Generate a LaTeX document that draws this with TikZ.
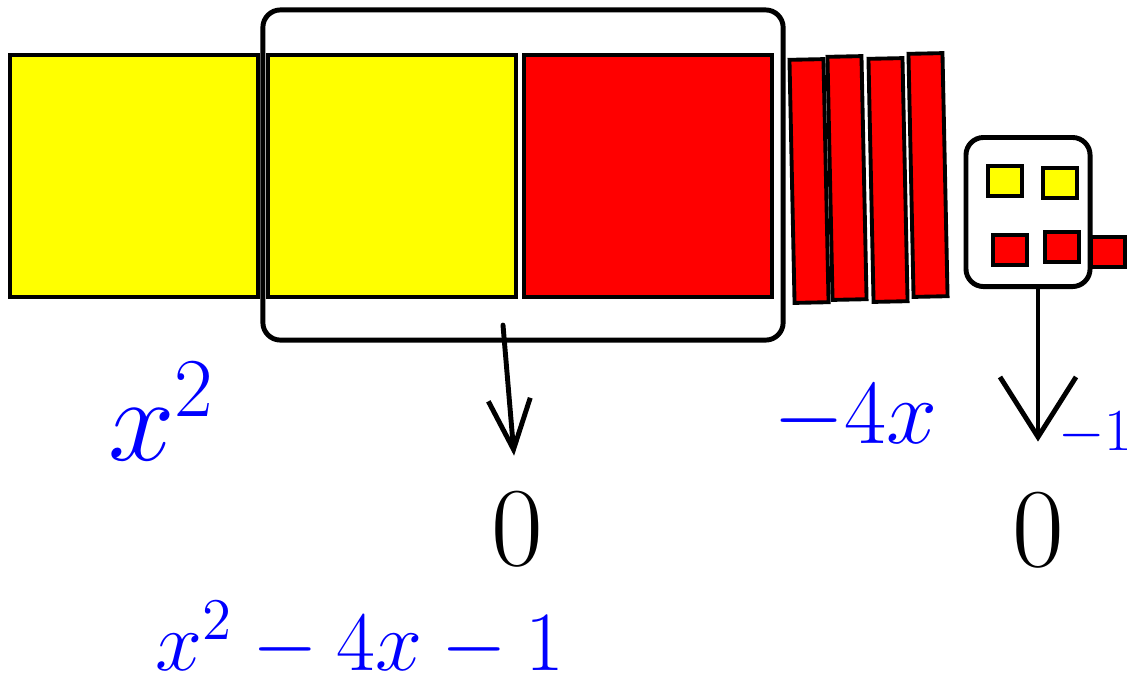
\RequirePackage{fix-cm}
\documentclass[tikz,border=0pt]{standalone}
\usepackage{amsmath}
\usepackage{xcolor}
\usepackage{tikz}
\usetikzlibrary{arrows.meta,positioning,calc,fit}
\definecolor{tileyellow}{HTML}{FFFF00}
\definecolor{tilered}{HTML}{FF0000}
\definecolor{penblue}{HTML}{0000FF}

\begin{document}
\begin{tikzpicture}[x=0.01cm, y=-0.01cm, every node/.style={inner sep=0pt, outer sep=0pt}]
    \tikzstyle{tile}=[draw=black,line width=1.1pt]
    \tikzstyle{square}=[tile,minimum width=2.48cm,minimum height=2.42cm]
    \tikzstyle{bar}=[tile,fill=tilered,minimum width=0.34cm,minimum height=2.43cm,rotate=1.2]
    \tikzstyle{unit}=[tile,minimum width=0.34cm,minimum height=0.30cm]
    \tikzstyle{frame}=[draw=black,line width=1.4pt,rounded corners=5pt]
    \tikzstyle{drop}=[line width=1.4pt,line cap=round]
    \tikzstyle{pen}=[text=penblue]
    \useasboundingbox (0,0) rectangle (1134,693);
    \node[square,fill=tileyellow] (xsqA) at (134,176) {};
    \node[square,fill=tileyellow,right=0.1cm of xsqA] (xsqB) {};
    \node[square,fill=tilered,right=0.08cm of xsqB] (xsqC) {};
    \node[bar] (xbarA) at (809,181) {};
    \node[bar] (xbarB) at (847,178) {};
    \node[bar] (xbarC) at (888,180) {};
    \node[bar] (xbarD) at (928,175) {};
    \node[frame,minimum width=5.2cm,minimum height=3.3cm] (pair) at (523,175) {};
    \node[frame,minimum width=1.24cm,minimum height=1.49cm] (units) at (1028,212) {};
    \node[unit,fill=tileyellow] (oneA) at (1005,181) {};
    \node[unit,fill=tileyellow] (oneB) at (1060,183) {};
    \node[unit,fill=tilered] (oneC) at (1010,250) {};
    \node[unit,fill=tilered] (oneD) at (1062,247) {};
    \node[unit,fill=tilered] (oneE) at (1108,252) {};
    \node[anchor=base] (zeroA) at (517,565) {\fontsize{32}{38}\selectfont 0};
    \node[anchor=base] (zeroB) at (1038,566) {\fontsize{32}{38}\selectfont 0};
    \draw[drop,-{Straight Barb[length=0.5cm,width=0.42cm]},shorten >=0.35cm] ([xshift=-0.2cm,yshift=0.15cm]pair.south) -- (zeroA.north);
    \draw[drop,-{Straight Barb[length=0.6cm,width=0.76cm]},shorten >=0.5cm] (zeroB |- units.south) -- (zeroB.north);
    \node[pen,anchor=base west] (sqlabel) at (108,460) {\fontsize{34}{40}\selectfont $x^2$};
    \node[pen,anchor=base west] (barlabel) at (773,443) {\fontsize{26}{30}\selectfont $-4x$};
    \node[pen,anchor=base east] (unitlabel) at (1132,450) {\fontsize{17}{20}\selectfont $-1$};
    \node[pen,anchor=base] (total) at (360,670) {\fontsize{24}{28}\selectfont $x^2-4x-1$};
\end{tikzpicture}
\end{document}
